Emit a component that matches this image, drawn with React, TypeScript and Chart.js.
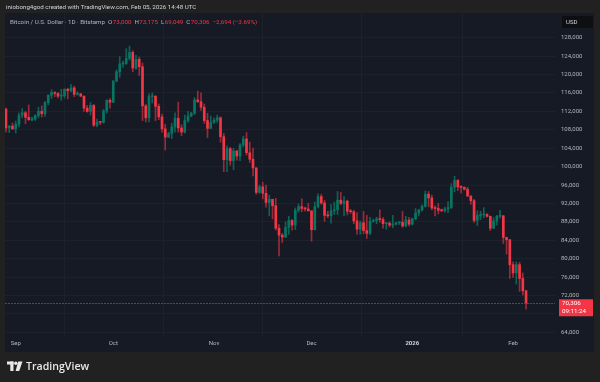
import React, { useEffect, useRef } from 'react';
import { Chart, registerables } from 'chart.js';

Chart.register(...registerables);

// ---- data (prices in thousands of USD, daily candles from FIRST_DATE) ----
const FIRST_DATE = '2025-08-29';

const OPEN_K = [
  112.5, 108.4, 108.8, 108.2, 109.2, 111.2, 111.7, 110.7, 110.2, 110.3,
  111.1, 112.0, 111.5, 113.9, 115.5, 116.1, 115.9, 115.3, 115.4, 116.8,
  116.5, 117.1, 115.7, 115.8, 115.3, 112.7, 112.0, 113.3, 109.0, 109.7,
  109.6, 112.1, 114.4, 114.0, 118.6, 120.6, 122.3, 122.4, 123.5, 124.8,
  121.4, 123.3, 121.7, 113.2, 110.6, 115.2, 115.3, 113.1, 110.8, 108.2,
  106.4, 107.2, 108.6, 110.5, 108.4, 107.5, 110.0, 111.0, 111.6, 114.5,
  114.1, 112.9, 110.0, 108.3, 109.6, 110.1, 110.6, 106.5, 101.5, 103.9,
  101.3, 103.4, 102.3, 104.7, 106.0, 103.0, 101.6, 99.7, 94.4, 95.6,
  94.2, 92.2, 92.9, 91.5, 86.6, 85.1, 84.7, 86.8, 88.3, 87.3,
  90.5, 91.3, 90.9, 90.8, 90.4, 86.3, 91.3, 93.5, 92.1, 89.4,
  89.3, 90.4, 90.6, 92.7, 92.0, 92.5, 90.3, 90.2, 88.2, 86.4,
  87.8, 86.1, 85.5, 88.1, 88.3, 88.6, 88.5, 87.6, 87.7, 87.3,
  87.5, 87.8, 87.9, 87.1, 88.4, 87.5, 88.7, 89.9, 90.6, 91.4,
  94.0, 93.2, 91.0, 90.9, 90.5, 90.4, 90.8, 91.1, 95.5, 97.0,
  95.6, 95.5, 95.1, 93.6, 92.6, 88.3, 89.4, 89.5, 89.6, 89.2,
  86.6, 88.2, 89.2, 89.3, 84.6, 84.1, 78.7, 76.9, 78.7, 75.7,
  73.0,
];
const HIGH_K = [
  112.7, 108.9, 109.5, 109.9, 111.7, 112.6, 112.0, 113.4, 110.8, 111.3,
  112.9, 113.2, 114.2, 115.6, 116.7, 116.3, 116.1, 116.8, 116.9, 117.0,
  117.9, 117.5, 116.3, 115.9, 115.4, 113.3, 113.9, 113.5, 110.3, 109.8,
  112.4, 114.5, 114.8, 118.7, 121.0, 123.9, 122.9, 125.6, 126.2, 125.2,
  124.2, 123.8, 122.5, 113.5, 115.8, 116.0, 115.4, 113.6, 111.4, 109.2,
  107.5, 109.4, 111.7, 114.0, 109.1, 111.2, 112.0, 111.8, 115.0, 116.4,
  116.0, 113.6, 111.6, 111.0, 110.6, 111.2, 110.8, 107.2, 104.5, 104.2,
  104.0, 103.5, 105.0, 106.6, 107.4, 105.3, 104.0, 99.8, 96.0, 96.6,
  96.0, 93.8, 92.9, 93.1, 87.4, 85.5, 88.0, 89.2, 88.5, 91.0,
  91.9, 93.0, 91.2, 92.0, 90.4, 92.3, 94.1, 94.0, 92.7, 90.3,
  91.8, 92.3, 94.6, 94.4, 93.5, 92.7, 90.7, 90.5, 90.0, 88.2,
  90.3, 89.4, 89.0, 88.6, 89.0, 90.6, 88.9, 87.9, 88.0, 89.4,
  87.9, 88.0, 90.3, 89.2, 89.0, 88.8, 90.9, 90.7, 91.7, 94.7,
  94.6, 93.8, 91.5, 92.0, 90.8, 91.2, 92.4, 96.3, 97.9, 97.2,
  95.8, 95.6, 95.5, 93.7, 92.9, 90.4, 90.3, 91.1, 89.8, 89.3,
  88.9, 89.4, 90.5, 89.4, 84.7, 84.2, 79.3, 79.3, 79.2, 76.9,
  73.175,
];
const LOW_K = [
  107.5, 107.4, 108.1, 107.3, 108.6, 110.6, 109.3, 110.0, 109.9, 110.0,
  110.6, 110.8, 110.9, 113.4, 114.8, 115.2, 114.9, 114.4, 114.9, 114.7,
  116.2, 115.2, 115.5, 115.2, 112.0, 111.8, 111.2, 108.7, 108.6, 109.1,
  109.4, 111.6, 112.7, 113.9, 118.4, 119.4, 121.6, 122.2, 123.1, 120.6,
  121.1, 119.8, 110.0, 109.7, 109.7, 113.8, 110.0, 110.2, 107.5, 103.6,
  106.3, 106.1, 107.5, 107.5, 106.7, 107.3, 109.6, 110.8, 111.3, 113.9,
  112.2, 109.4, 106.3, 108.3, 109.4, 109.6, 105.3, 98.9, 98.9, 100.3,
  99.3, 101.4, 101.3, 104.3, 102.5, 100.9, 98.0, 94.0, 94.2, 93.0,
  91.2, 89.3, 88.6, 86.2, 80.6, 83.5, 84.6, 85.3, 86.2, 86.3,
  90.1, 90.2, 90.3, 90.3, 83.8, 86.2, 91.0, 91.8, 88.1, 88.9,
  87.7, 89.6, 89.6, 91.7, 89.3, 89.5, 89.8, 87.6, 85.3, 85.3,
  85.4, 84.4, 85.2, 87.9, 87.6, 87.9, 86.6, 86.4, 86.9, 86.7,
  87.3, 87.4, 86.8, 86.9, 87.1, 87.3, 88.4, 89.3, 90.3, 91.2,
  91.3, 90.6, 89.3, 89.7, 90.2, 90.1, 90.0, 90.9, 94.5, 94.8,
  94.3, 94.9, 93.5, 91.8, 87.9, 87.2, 88.5, 88.9, 89.0, 86.1,
  86.5, 87.3, 88.8, 83.3, 81.0, 75.7, 75.9, 74.5, 72.9, 72.1,
  69.049,
];
const CLOSE_K = [
  108.4, 108.8, 108.2, 109.2, 111.2, 111.7, 110.7, 110.2, 110.3, 111.1,
  112.0, 111.5, 113.9, 115.5, 116.1, 115.9, 115.3, 115.4, 116.8, 116.5,
  117.1, 115.7, 115.8, 115.3, 112.7, 112.0, 113.3, 109.0, 109.7, 109.6,
  112.1, 114.4, 114.0, 118.6, 120.6, 122.3, 122.4, 123.5, 124.8, 121.4,
  123.3, 121.7, 113.2, 110.6, 115.2, 115.3, 113.1, 110.8, 108.2, 106.4,
  107.2, 108.6, 110.5, 108.4, 107.5, 110.0, 111.0, 111.6, 114.5, 114.1,
  112.9, 110.0, 108.3, 109.6, 110.1, 110.6, 106.5, 101.5, 103.9, 101.3,
  103.4, 102.3, 104.7, 106.0, 103.0, 101.6, 99.7, 94.4, 95.6, 94.2,
  92.2, 92.9, 91.5, 86.6, 85.1, 84.7, 86.8, 88.3, 87.3, 90.5,
  91.3, 90.9, 90.8, 90.4, 86.3, 91.3, 93.5, 92.1, 89.4, 89.3,
  90.4, 90.6, 92.7, 92.0, 92.5, 90.3, 90.2, 88.2, 86.4, 87.8,
  86.1, 85.5, 88.1, 88.3, 88.6, 88.5, 87.6, 87.7, 87.3, 87.5,
  87.8, 87.9, 87.1, 88.4, 87.5, 88.7, 89.9, 90.6, 91.4, 94.0,
  93.2, 91.0, 90.9, 90.5, 90.4, 90.8, 91.1, 95.5, 97.0, 95.6,
  95.5, 95.1, 93.6, 92.6, 88.3, 89.4, 89.5, 89.6, 89.2, 86.6,
  88.2, 89.2, 89.3, 84.6, 84.1, 78.7, 76.9, 78.7, 75.7, 73.0,
  70.306,
];

const MONTH_STARTS = ['2025-09-01', '2025-10-01', '2025-11-01', '2025-12-01', '2026-01-01', '2026-02-01'];
const MONTH_LABELS = ['Sep', 'Oct', 'Nov', 'Dec', '2026', 'Feb'];
const PRICE_TICKS = [
  64000, 68000, 72000, 76000, 80000, 84000, 88000, 92000, 96000,
  100000, 104000, 108000, 112000, 116000, 120000, 124000, 128000,
];

const HEADER_TEXT = 'iniobong4god created with TradingView.com, Feb 05, 2026 14:48 UTC';
const SYMBOL_TEXT = 'Bitcoin / U.S. Dollar · 1D · Bitstamp';
const COUNTDOWN_TEXT = '09:11:24';
const CURRENCY_TEXT = 'USD';

// ---- styling ----
const UP = '#0a7462';
const DOWN = '#f23645';
const UP_WICK = 'rgba(10,116,98,0.8)';
const DOWN_WICK = 'rgba(242,54,69,0.6)';
const PANEL = '#161a25';
const OUTER = '#212121';
const GRID = '#1d212c';
const TEXT = '#b2b5be';
const FONT = 'Roboto, "Liberation Sans", sans-serif';

const fmt = (v: number) => Math.round(v).toLocaleString('en-US');

export default function App() {
  const ref = useRef<HTMLCanvasElement>(null);

  useEffect(() => {
    document.body.style.margin = '0';
    const canvas = ref.current;
    if (!canvas) return;

    const n = CLOSE_K.length;
    const open = OPEN_K.map((v) => v * 1000);
    const high = HIGH_K.map((v) => v * 1000);
    const low = LOW_K.map((v) => v * 1000);
    const close = CLOSE_K.map((v) => v * 1000);
    const up = close.map((c, i) => c >= open[i]);

    const bodies = close.map((c, i) => ({ x: i, y: [Math.min(open[i], c), Math.max(open[i], c)] }));
    const wicks = close.map((_, i) => ({ x: i, y: [low[i], high[i]] }));

    const day0 = Date.parse(FIRST_DATE);
    const monthIdx = MONTH_STARTS.map((d) => Math.round((Date.parse(d) - day0) / 86400000));

    const last = n - 1;
    const lastClose = close[last];
    const prevClose = close[last - 1];
    const change = lastClose - prevClose;
    const pct = (change / prevClose) * 100;

    const tvPlugin = {
      id: 'tvDecor',
      beforeDraw(chart: any) {
        const { ctx, width, height } = chart;
        ctx.save();
        ctx.fillStyle = OUTER;
        ctx.fillRect(0, 0, width, height);
        ctx.fillStyle = PANEL;
        ctx.fillRect(5, 13, 589, 339);
        ctx.restore();
      },
      afterDatasetsDraw(chart: any) {
        const { ctx, chartArea } = chart;
        const y = Math.round(chart.scales.y.getPixelForValue(lastClose)) + 0.5;
        ctx.save();
        ctx.strokeStyle = '#9a2a37';
        ctx.lineWidth = 1;
        ctx.setLineDash([2, 1]);
        ctx.beginPath();
        ctx.moveTo(chartArea.left, y);
        ctx.lineTo(chartArea.right, y);
        ctx.stroke();
        ctx.restore();
      },
      afterDraw(chart: any) {
        const { ctx } = chart;
        ctx.save();
        ctx.textBaseline = 'middle';
        ctx.textAlign = 'left';

        // top attribution line
        ctx.font = `6.2px ${FONT}`;
        ctx.fillStyle = '#d1d4dc';
        ctx.fillText(HEADER_TEXT, 6, 7);

        // symbol + OHLC legend
        const segs: [string, string, number][] = [
          [SYMBOL_TEXT, TEXT, 3],
          ['O', TEXT, 0.5],
          [fmt(open[last]), DOWN, 3],
          ['H', TEXT, 0.5],
          [fmt(high[last]), DOWN, 3],
          ['L', TEXT, 0.5],
          [fmt(low[last]), DOWN, 3],
          ['C', TEXT, 0.5],
          [fmt(lastClose), DOWN, 3],
          [`${change < 0 ? '−' : '+'}${fmt(Math.abs(change))} (${change < 0 ? '−' : '+'}${Math.abs(pct).toFixed(2)}%)`, DOWN, 0],
        ];
        let x = 10;
        ctx.font = `6.2px ${FONT}`;
        for (const [t, c, g] of segs) {
          ctx.fillStyle = c;
          ctx.fillText(t, x, 22.5);
          x += ctx.measureText(t).width + g;
        }

        // currency box
        ctx.fillStyle = '#0e0f12';
        ctx.fillRect(562, 16, 31, 12);
        ctx.fillStyle = '#d1d4dc';
        ctx.font = `6px ${FONT}`;
        ctx.fillText(CURRENCY_TEXT, 566, 22.5);

        // last price box
        const py = chart.scales.y.getPixelForValue(lastClose);
        ctx.fillStyle = DOWN;
        ctx.fillRect(559, py - 4, 34, 17);
        ctx.fillStyle = '#ffffff';
        ctx.font = `6.2px ${FONT}`;
        ctx.fillText(fmt(lastClose), 562, py + 0.5);
        ctx.fillText(COUNTDOWN_TEXT, 562, py + 8.5);

        // footer logo
        ctx.fillStyle = '#e8e8e8';
        ctx.fillRect(7, 361.5, 6.5, 3);
        ctx.fillRect(10.3, 361.5, 3.2, 9.5);
        ctx.beginPath();
        ctx.arc(15.8, 363.2, 1.7, 0, Math.PI * 2);
        ctx.fill();
        ctx.beginPath();
        ctx.moveTo(18.2, 361.5);
        ctx.lineTo(22.5, 361.5);
        ctx.lineTo(19.2, 371);
        ctx.lineTo(15.6, 371);
        ctx.closePath();
        ctx.fill();
        ctx.font = `600 10.6px "Open Sans", ${FONT}`;
        ctx.fillText('TradingView', 26, 366.5);
        ctx.restore();
      },
    };

    const chart = new Chart(canvas, {
      type: 'bar',
      data: {
        datasets: [
          {
            data: bodies as any,
            backgroundColor: up.map((u) => (u ? UP : DOWN)),
            barThickness: 2,
            minBarLength: 1,
            grouped: false,
            borderWidth: 0,
          } as any,
          {
            data: wicks as any,
            backgroundColor: up.map((u) => (u ? UP_WICK : DOWN_WICK)),
            barThickness: 1,
            minBarLength: 1,
            grouped: false,
            borderWidth: 0,
          } as any,
        ],
      },
      options: {
        responsive: false,
        animation: false,
        devicePixelRatio: 1,
        events: [],
        layout: { padding: { left: 5, right: 6, top: 13, bottom: 30 } },
        plugins: { legend: { display: false }, tooltip: { enabled: false } },
        scales: {
          x: {
            type: 'linear',
            min: -0.3,
            max: 168.9,
            offset: false,
            afterBuildTicks: (s: any) => {
              s.ticks = monthIdx.map((v) => ({ value: v }));
            },
            afterFit: (s: any) => {
              s.height = 15;
            },
            grid: { color: GRID, drawTicks: false },
            border: { display: false },
            ticks: {
              autoSkip: false,
              maxRotation: 0,
              padding: 3,
              color: (c: any) => (MONTH_LABELS[monthIdx.indexOf(c.tick?.value)] === '2026' ? '#d1d4dc' : TEXT),
              font: (c: any) => ({
                family: FONT,
                size: 6,
                weight: MONTH_LABELS[monthIdx.indexOf(c.tick?.value)] === '2026' ? 'bold' : 'normal',
              }),
              callback: (v: any) => MONTH_LABELS[monthIdx.indexOf(Number(v))] ?? '',
            },
          },
          y: {
            position: 'right',
            min: 62980,
            max: 133370,
            afterBuildTicks: (s: any) => {
              s.ticks = PRICE_TICKS.map((v) => ({ value: v }));
            },
            afterFit: (s: any) => {
              s.width = 39;
            },
            grid: { color: GRID, drawTicks: false },
            border: { display: false },
            ticks: {
              padding: 6,
              color: TEXT,
              font: { family: FONT, size: 6 },
              callback: (v: any) => fmt(Number(v)),
            },
          },
        },
      } as any,
      plugins: [tvPlugin],
    });

    return () => chart.destroy();
  }, []);

  return <canvas ref={ref} width={600} height={382} style={{ display: 'block', width: 600, height: 382 }} />;
}
